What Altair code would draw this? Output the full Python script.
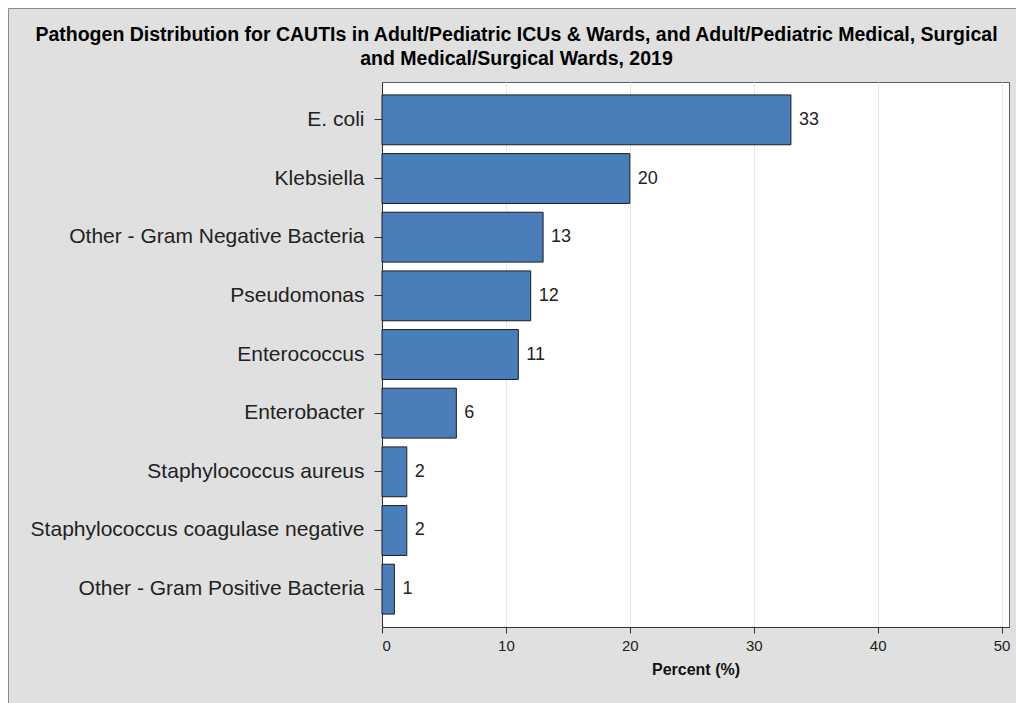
import altair as alt
import pandas as pd

# Pathogen shares (percent) for CAUTIs, 2019
pathogens = [
    "E. coli",
    "Klebsiella",
    "Other - Gram Negative Bacteria",
    "Pseudomonas",
    "Enterococcus",
    "Enterobacter",
    "Staphylococcus aureus\u00a0",
    "Staphylococcus coagulase negative\u00a0",
    "Other - Gram Positive Bacteria",
]
percents = [33, 20, 13, 12, 11, 6, 2, 2, 1]
x_ticks = [0, 10, 20, 30, 40, 50]

title_lines = [
    "Pathogen Distribution for CAUTIs in Adult/Pediatric ICUs & Wards, and Adult/Pediatric Medical, Surgical",
    "and Medical/Surgical Wards, 2019",
]

df = pd.DataFrame({"pathogen": pathogens, "percent": percents})

W, H = 627, 545
LEFT, TOP = 382, 82
FONT = "Liberation Sans"

x_scale = alt.Scale(domain=[0, 50.6], nice=False, zero=True)
y_scale = alt.Scale(domain=pathogens, paddingInner=0.15, paddingOuter=0.22)

base = alt.Chart(df)

bars = base.mark_bar(
    color="#4a7ebb", stroke="#1c1c1c", strokeWidth=1
).encode(
    x=alt.X(
        "percent:Q",
        scale=x_scale,
        axis=alt.Axis(
            title="Percent (%)",
            values=x_ticks,
            format="d",
            grid=True,
            gridColor="#e6e6e6",
            domainColor="#333333",
            tickColor="#333333",
            tickSize=6,
            labelFont=FONT,
            labelFontSize=15,
            labelColor="#222222",
            labelPadding=5,
            titleFont=FONT,
            titleFontSize=16,
            titleFontWeight="bold",
            titleColor="#111111",
            titlePadding=8,
        ),
    ),
    y=alt.Y(
        "pathogen:N",
        scale=y_scale,
        sort=pathogens,
        axis=alt.Axis(
            title=None,
            domainColor="#333333",
            tickColor="#333333",
            tickSize=8,
            labelFont=FONT,
            labelFontSize=21,
            labelColor="#222222",
            labelPadding=10,
            labelLimit=400,
        ),
    ),
)

labels = base.mark_text(
    align="left", baseline="middle", dx=8, font=FONT, fontSize=18, color="#222222"
).encode(
    x=alt.X("percent:Q", scale=x_scale),
    y=alt.Y("pathogen:N", scale=y_scale, sort=pathogens),
    text=alt.Text("percent:Q", format="d"),
)

# outer panel: white margin and thin grey frame around the grey backdrop
one = pd.DataFrame({"k": [0]})
margin = alt.Chart(one).mark_rect(
    fill=None, stroke="white", strokeWidth=16
).encode(
    x=alt.value(-LEFT), x2=alt.value(1100 - LEFT),
    y=alt.value(-TOP), y2=alt.value(800 - TOP),
)
frame = alt.Chart(one).mark_rect(
    fill=None, stroke="#8a8a8a", strokeWidth=1
).encode(
    x=alt.value(8.5 - LEFT), x2=alt.value(1100 - LEFT),
    y=alt.value(8.5 - TOP), y2=alt.value(800 - TOP),
)

# the title sits above the layer bounds, which reach up to the page edge
# because of the margin rectangle; dy brings it back down into the panel
chart = alt.layer(margin, frame, bars, labels).properties(
    width=W,
    height=H,
    padding={"left": LEFT, "top": TOP, "right": 1016 - LEFT - W, "bottom": 703 - TOP - H},
    autosize=alt.AutoSizeParams(type="none"),
    background="#e0e0e0",
    title=alt.TitleParams(
        text=title_lines,
        anchor="middle",
        frame="group",
        dx=-179,
        dy=90,
        offset=13,
        font=FONT,
        fontSize=19.5,
        fontWeight="bold",
        color="#000000",
        lineHeight=24,
    ),
).configure_view(
    fill="white", stroke="#5a5a5a", strokeWidth=1
)

chart.save("out.html", embed_options={"renderer": "svg", "actions": False})
